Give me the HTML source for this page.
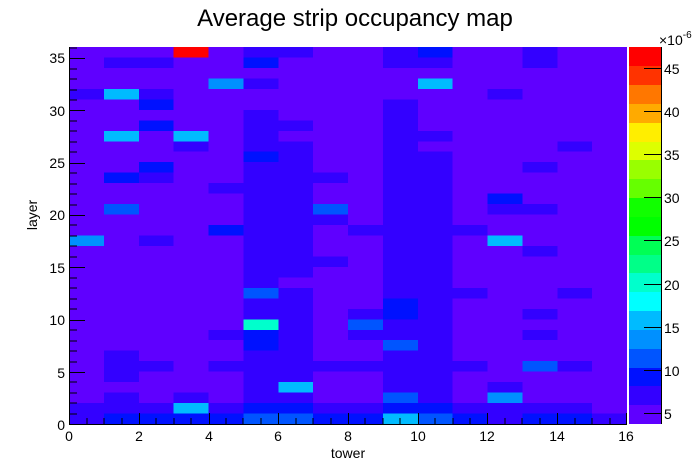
<!DOCTYPE html>
<html><head><meta charset="utf-8"><style>
body{margin:0;background:#fff}
svg{display:block;font-family:"Liberation Sans",sans-serif}
</style></head><body>
<svg width="696" height="472" viewBox="0 0 696 472" xmlns="http://www.w3.org/2000/svg">
<rect width="696" height="472" fill="#fff"/>
<text x="355" y="26" font-size="24" text-anchor="middle">Average strip occupancy map</text>
<g transform="translate(69,424) scale(34.875,-10.472)" shape-rendering="crispEdges">
<rect x="0" y="0" width="16" height="36" fill="#5f00ff"/>
<g fill="#3300ff">
<rect x="5" y="35" width="2" height="1"/><rect x="9" y="35" width="1" height="1"/><rect x="13" y="35" width="1" height="1"/>
<rect x="1" y="34" width="2" height="1"/><rect x="9" y="34" width="2" height="1"/><rect x="13" y="34" width="1" height="1"/>
<rect x="5" y="32" width="1" height="1"/>
<rect x="0" y="31" width="1" height="1"/><rect x="2" y="31" width="1" height="1"/><rect x="12" y="31" width="1" height="1"/>
<rect x="9" y="30" width="1" height="1"/>
<rect x="5" y="29" width="1" height="1"/><rect x="9" y="29" width="1" height="1"/>
<rect x="5" y="28" width="2" height="1"/><rect x="9" y="28" width="1" height="1"/>
<rect x="5" y="27" width="1" height="1"/><rect x="9" y="27" width="2" height="1"/>
<rect x="3" y="26" width="1" height="1"/><rect x="5" y="26" width="2" height="1"/><rect x="9" y="26" width="1" height="1"/><rect x="14" y="26" width="1" height="1"/>
<rect x="6" y="25" width="1" height="1"/><rect x="9" y="25" width="2" height="1"/>
<rect x="5" y="24" width="2" height="1"/><rect x="9" y="24" width="2" height="1"/><rect x="13" y="24" width="1" height="1"/>
<rect x="2" y="23" width="1" height="1"/><rect x="5" y="23" width="3" height="1"/><rect x="9" y="23" width="2" height="1"/>
<rect x="4" y="22" width="3" height="1"/><rect x="9" y="22" width="2" height="1"/>
<rect x="5" y="21" width="2" height="1"/><rect x="9" y="21" width="2" height="1"/>
<rect x="5" y="20" width="2" height="1"/><rect x="9" y="20" width="2" height="1"/><rect x="12" y="20" width="2" height="1"/>
<rect x="5" y="19" width="3" height="1"/><rect x="9" y="19" width="2" height="1"/>
<rect x="5" y="18" width="2" height="1"/><rect x="8" y="18" width="4" height="1"/>
<rect x="2" y="17" width="1" height="1"/><rect x="5" y="17" width="2" height="1"/><rect x="9" y="17" width="2" height="1"/>
<rect x="5" y="16" width="2" height="1"/><rect x="9" y="16" width="2" height="1"/><rect x="13" y="16" width="1" height="1"/>
<rect x="5" y="15" width="3" height="1"/><rect x="9" y="15" width="2" height="1"/>
<rect x="5" y="14" width="2" height="1"/><rect x="9" y="14" width="2" height="1"/>
<rect x="5" y="13" width="1" height="1"/><rect x="9" y="13" width="2" height="1"/>
<rect x="6" y="12" width="1" height="1"/><rect x="9" y="12" width="3" height="1"/><rect x="14" y="12" width="1" height="1"/>
<rect x="5" y="11" width="2" height="1"/><rect x="10" y="11" width="1" height="1"/>
<rect x="5" y="10" width="2" height="1"/><rect x="8" y="10" width="1" height="1"/><rect x="10" y="10" width="1" height="1"/><rect x="13" y="10" width="1" height="1"/>
<rect x="6" y="9" width="1" height="1"/><rect x="9" y="9" width="2" height="1"/>
<rect x="4" y="8" width="1" height="1"/><rect x="6" y="8" width="1" height="1"/><rect x="8" y="8" width="3" height="1"/><rect x="13" y="8" width="1" height="1"/>
<rect x="6" y="7" width="1" height="1"/><rect x="10" y="7" width="1" height="1"/>
<rect x="1" y="6" width="1" height="1"/><rect x="5" y="6" width="2" height="1"/><rect x="9" y="6" width="2" height="1"/>
<rect x="1" y="5" width="2" height="1"/><rect x="4" y="5" width="8" height="1"/><rect x="14" y="5" width="1" height="1"/>
<rect x="1" y="4" width="1" height="1"/><rect x="5" y="4" width="2" height="1"/><rect x="9" y="4" width="2" height="1"/>
<rect x="5" y="3" width="1" height="1"/><rect x="9" y="3" width="2" height="1"/><rect x="12" y="3" width="1" height="1"/>
<rect x="1" y="2" width="1" height="1"/><rect x="3" y="2" width="1" height="1"/><rect x="5" y="2" width="2" height="1"/><rect x="10" y="2" width="1" height="1"/>
<rect x="0" y="1" width="3" height="1"/><rect x="4" y="1" width="1" height="1"/><rect x="7" y="1" width="2" height="1"/><rect x="11" y="1" width="4" height="1"/>
<rect x="0" y="0" width="1" height="1"/><rect x="12" y="0" width="1" height="1"/><rect x="15" y="0" width="1" height="1"/>
</g>
<g fill="#0011ff">
<rect x="10" y="35" width="1" height="1"/><rect x="5" y="34" width="1" height="1"/>
<rect x="2" y="30" width="1" height="1"/><rect x="2" y="28" width="1" height="1"/>
<rect x="5" y="25" width="1" height="1"/><rect x="2" y="24" width="1" height="1"/>
<rect x="1" y="23" width="1" height="1"/><rect x="12" y="21" width="1" height="1"/>
<rect x="4" y="18" width="1" height="1"/>
<rect x="9" y="11" width="1" height="1"/><rect x="9" y="10" width="1" height="1"/>
<rect x="5" y="8" width="1" height="1"/><rect x="5" y="7" width="1" height="1"/>
<rect x="5" y="1" width="2" height="1"/><rect x="9" y="1" width="2" height="1"/>
<rect x="1" y="0" width="4" height="1"/><rect x="7" y="0" width="2" height="1"/><rect x="11" y="0" width="1" height="1"/><rect x="13" y="0" width="2" height="1"/>
</g>
<g fill="#0055ff">
<rect x="1" y="20" width="1" height="1"/><rect x="7" y="20" width="1" height="1"/>
<rect x="5" y="12" width="1" height="1"/><rect x="8" y="9" width="1" height="1"/>
<rect x="9" y="7" width="1" height="1"/><rect x="13" y="5" width="1" height="1"/>
<rect x="9" y="2" width="1" height="1"/>
<rect x="5" y="0" width="2" height="1"/><rect x="10" y="0" width="1" height="1"/>
</g>
<g fill="#0090ff">
<rect x="4" y="32" width="1" height="1"/><rect x="0" y="17" width="1" height="1"/><rect x="12" y="2" width="1" height="1"/>
</g>
<g fill="#00bbff">
<rect x="10" y="32" width="1" height="1"/><rect x="1" y="31" width="1" height="1"/>
<rect x="1" y="27" width="1" height="1"/><rect x="3" y="27" width="1" height="1"/>
<rect x="12" y="17" width="1" height="1"/><rect x="6" y="3" width="1" height="1"/>
<rect x="3" y="1" width="1" height="1"/><rect x="9" y="0" width="1" height="1"/>
</g>
<rect x="5" y="9" width="1" height="1" fill="#00ffcc"/>
<rect x="3" y="35" width="1" height="1" fill="#ff0000"/>
</g>
<g stroke="#000" stroke-width="1" shape-rendering="crispEdges">
<line x1="69" y1="424.5" x2="627" y2="424.5"/>
<line x1="69.5" y1="47" x2="69.5" y2="424"/>
</g>
<g stroke="#000" stroke-width="1" shape-rendering="crispEdges">
<path d="M69.5 424v-11M139.5 424v-11M209.5 424v-11M278.5 424v-11M348.5 424v-11M418.5 424v-11M487.5 424v-11M557.5 424v-11M626.5 424v-11
M87 424v-6M104 424v-6M122 424v-6M156 424v-6M174 424v-6M191 424v-6M226 424v-6M243 424v-6M261 424v-6M296 424v-6M313 424v-6M331 424v-6M365 424v-6M383 424v-6M400 424v-6M435 424v-6M453 424v-6M470 424v-6M505 424v-6M522 424v-6M540 424v-6M575 424v-6M592 424v-6M610 424v-6"/>
<path d="M69 424.5h16M69 372.5h16M69 320.5h16M69 267.5h16M69 215.5h16M69 163.5h16M69 110.5h16M69 58.5h16
M69 414h8M69 403h8M69 393h8M69 382h8M69 362h8M69 351h8M69 341h8M69 330h8M69 309h8M69 299h8M69 288h8M69 278h8M69 257h8M69 246h8M69 236h8M69 225h8M69 205h8M69 194h8M69 184h8M69 173h8M69 152h8M69 142h8M69 131h8M69 121h8M69 100h8M69 90h8M69 79h8M69 69h8M69 48h8"/>
</g>
<g font-size="14" text-anchor="middle">
<text x="69" y="441">0</text><text x="139" y="441">2</text><text x="209" y="441">4</text><text x="278" y="441">6</text><text x="348" y="441">8</text><text x="418" y="441">10</text><text x="487" y="441">12</text><text x="557" y="441">14</text><text x="626" y="441">16</text>
</g>
<g font-size="14" text-anchor="end">
<text x="65" y="430">0</text><text x="65" y="378">5</text><text x="65" y="325">10</text><text x="65" y="273">15</text><text x="65" y="220">20</text><text x="65" y="168">25</text><text x="65" y="116">30</text><text x="65" y="63">35</text>
</g>
<text x="348" y="458" font-size="14" text-anchor="middle">tower</text>
<text transform="translate(37,215) rotate(-90)" font-size="14" text-anchor="middle">layer</text>
<g shape-rendering="crispEdges">
<rect x="629" y="47" width="32" height="19" fill="#ff0000"/>
<rect x="629" y="66" width="32" height="19" fill="#ff3300"/>
<rect x="629" y="85" width="32" height="19" fill="#ff7700"/>
<rect x="629" y="104" width="32" height="19" fill="#ffaa00"/>
<rect x="629" y="123" width="32" height="19" fill="#ffee00"/>
<rect x="629" y="142" width="32" height="19" fill="#ddff00"/>
<rect x="629" y="160" width="32" height="19" fill="#99ff00"/>
<rect x="629" y="179" width="32" height="19" fill="#66ff00"/>
<rect x="629" y="198" width="32" height="19" fill="#11ff00"/>
<rect x="629" y="217" width="32" height="19" fill="#00ff00"/>
<rect x="629" y="236" width="32" height="19" fill="#00ff55"/>
<rect x="629" y="255" width="32" height="19" fill="#00ff88"/>
<rect x="629" y="273" width="32" height="19" fill="#00ffcc"/>
<rect x="629" y="292" width="32" height="19" fill="#00ffff"/>
<rect x="629" y="311" width="32" height="19" fill="#00bbff"/>
<rect x="629" y="330" width="32" height="19" fill="#0090ff"/>
<rect x="629" y="349" width="32" height="19" fill="#0055ff"/>
<rect x="629" y="368" width="32" height="19" fill="#0011ff"/>
<rect x="629" y="386" width="32" height="19" fill="#3300ff"/>
<rect x="629" y="405" width="32" height="19" fill="#5f00ff"/>
<line x1="661.5" y1="47" x2="661.5" y2="424" stroke="#000"/>
<path d="M644 68.5h17M644 111.5h17M644 154.5h17M644 197.5h17M644 240.5h17M644 284.5h17M644 327.5h17M644 370.5h17M644 413.5h17" stroke="#000"/>
</g>
<g font-size="14">
<text x="664" y="74">45</text><text x="664" y="117">40</text><text x="664" y="160">35</text><text x="664" y="203">30</text><text x="664" y="246">25</text><text x="664" y="290">20</text><text x="664" y="333">15</text><text x="664" y="376">10</text><text x="664" y="419">5</text>
</g>
<text x="659" y="45" font-size="14">×10<tspan font-size="10" dy="-7">-6</tspan></text>
</svg>
</body></html>
